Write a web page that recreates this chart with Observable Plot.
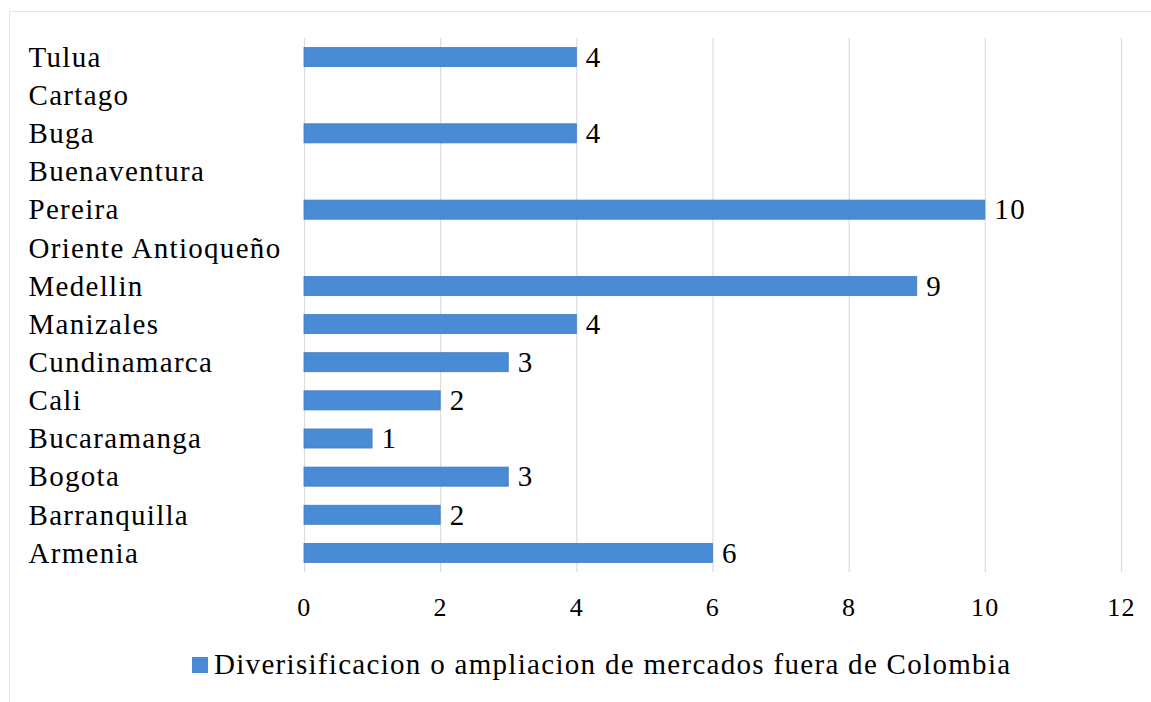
<!DOCTYPE html>
<html>
<head>
<meta charset="utf-8">
<script src="https://cdn.jsdelivr.net/npm/d3@7"></script>
<script src="https://cdn.jsdelivr.net/npm/@observablehq/plot@0.6"></script>
<style>
  html, body { margin: 0; padding: 0; background: #fff; }
  #wrap { position: relative; width: 1151px; height: 702px; overflow: hidden; font-family: 'Liberation Serif'; }
  #frame { position: absolute; left: 9px; top: 11px; width: 1160px; height: 720px; border: 1px solid #e4e4e4; box-sizing: border-box; }
  #chart { position: absolute; left: 0; top: 0; }
  #chart svg text { font-family: 'Liberation Serif'; letter-spacing: 1.3px; }
  #legend { position: absolute; left: 192px; top: 648px; display: flex; align-items: center; white-space: nowrap; }
  #legend .swatch { width: 16px; height: 16px; background: #4a8bd6; margin-right: 6px; }
  #legend .label { font-family: 'Liberation Serif'; font-size: 29px; letter-spacing: 1.3px; color: #000; }
</style>
</head>
<body>
<div id="wrap">
  <div id="frame"></div>
  <div id="chart"></div>
  <div id="legend"><span class="swatch"></span><span class="label">Diverisificacion o ampliacion de mercados fuera de Colombia</span></div>
</div>
<script>
// Cities, listed top to bottom
const cities = [
  "Tulua", "Cartago", "Buga", "Buenaventura", "Pereira", "Oriente Antioqueño",
  "Medellin", "Manizales", "Cundinamarca", "Cali", "Bucaramanga", "Bogota",
  "Barranquilla", "Armenia"
];
// Number of firms that diversified or expanded into markets outside Colombia
const values = [4, null, 4, null, 10, null, 9, 4, 3, 2, 1, 3, 2, 6];
const xTicks = [0, 2, 4, 6, 8, 10, 12];

const rows = cities.map((city, i) => ({ city, value: values[i] }));
const withValue = rows.filter(d => d.value != null);

const barColor = "#4a8bd6";
const W = 1151, H = 640;

const chart = Plot.plot({
  width: W,
  height: H,
  marginTop: 38,
  marginBottom: H - 572,
  marginLeft: 304,
  marginRight: W - 1121,
  style: { fontFamily: "'Liberation Serif'", background: "transparent", color: "#000" },
  x: { domain: [0, 12], ticks: xTicks, label: null },
  y: { domain: cities, paddingInner: 0.5, paddingOuter: 0.25, round: false, label: null },
  marks: [
    Plot.ruleX(xTicks, { stroke: "#dcdcdc", strokeWidth: 1.2 }),
    Plot.barX(withValue, { x: "value", y: "city", fill: barColor, stroke: "#3f7cc4", strokeWidth: 0.8 }),
    Plot.text(withValue, {
      x: "value", y: "city", text: d => String(d.value),
      textAnchor: "start", dx: 9, fontSize: 29, fill: "#000"
    }),
    Plot.axisY({ tickSize: 0, textAnchor: "start", dx: -267, fontSize: 29, fill: "#000", label: null }),
    Plot.axisX({ ticks: xTicks, tickSize: 0, tickPadding: 25, fontSize: 26, fill: "#000", label: null })
  ]
});

document.getElementById("chart").appendChild(chart);
</script>
</body>
</html>
